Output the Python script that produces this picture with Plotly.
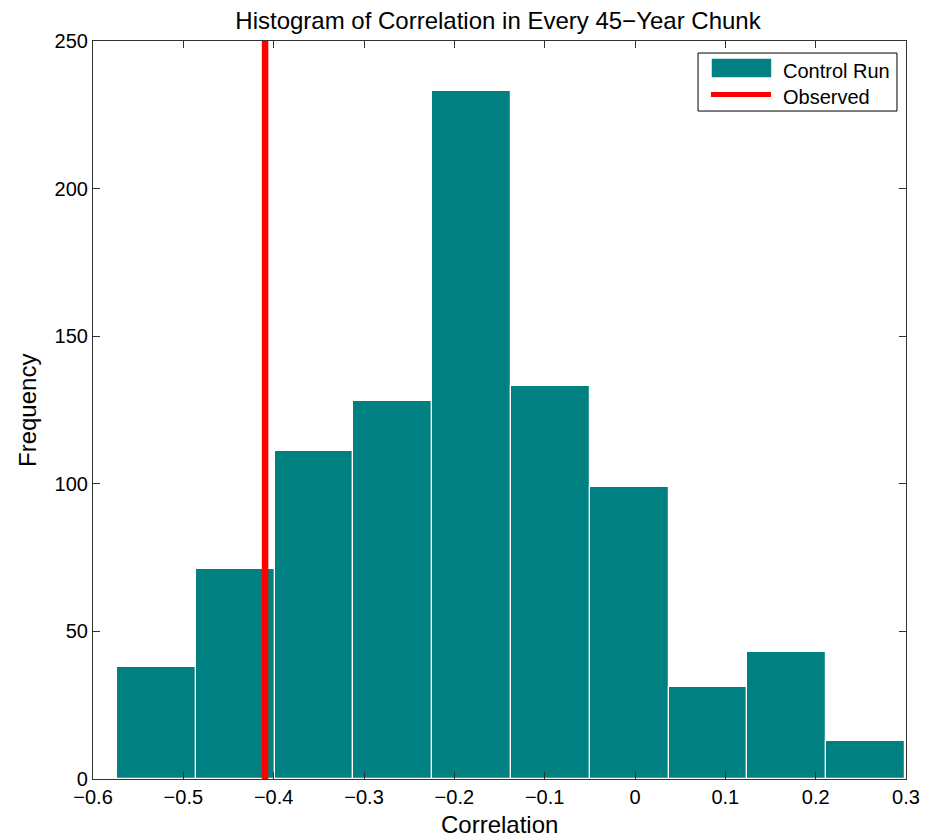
import plotly.graph_objects as go

bin_edges = [-0.5735, -0.4862, -0.3990, -0.3117, -0.2245, -0.1372, -0.0500, 0.0373, 0.1245, 0.2118, 0.2990]
counts = [38, 71, 111, 128, 233, 133, 99, 31, 43, 13]
observed = -0.4095
x_ticks = [-0.6, -0.5, -0.4, -0.3, -0.2, -0.1, 0, 0.1, 0.2, 0.3]
x_tick_labels = ["−0.6", "−0.5", "−0.4", "−0.3", "−0.2", "−0.1", "0", "0.1", "0.2", "0.3"]
y_ticks = [0, 50, 100, 150, 200, 250]
series_names = ["Control Run", "Observed"]
bar_color = "#008080"
line_color = "#ff0000"

centers = [(bin_edges[i] + bin_edges[i + 1]) / 2 for i in range(len(counts))]
widths = [bin_edges[i + 1] - bin_edges[i] for i in range(len(counts))]

fig = go.Figure()
fig.add_trace(go.Bar(
    x=centers, y=counts, width=widths, name=series_names[0],
    marker=dict(color=bar_color, line=dict(color="white", width=1.2)),
    showlegend=False,
))
fig.add_trace(go.Scatter(
    x=[observed, observed], y=[0, 250], mode="lines", name=series_names[1],
    line=dict(color=line_color, width=6.5), showlegend=False,
))

font_family = "Liberation Sans, Arial, sans-serif"

# Manual MATLAB-style legend (paper coordinates)
shapes = [
    dict(type="rect", xref="paper", yref="paper", x0=0.7442, x1=0.9889, y0=0.9051, y1=0.9837,
         line=dict(color="black", width=1), fillcolor="white", layer="above"),
    dict(type="rect", xref="paper", yref="paper", x0=0.7614, x1=0.8339, y0=0.9512, y1=0.9756,
         line=dict(color=bar_color, width=0.5), fillcolor=bar_color, layer="above"),
    dict(type="line", xref="paper", yref="paper", x0=0.7601, x1=0.8339, y0=0.9275, y1=0.9275,
         line=dict(color=line_color, width=5), layer="above"),
]
annotations = [
    dict(text=series_names[0], xref="paper", yref="paper", x=0.8462, y=0.9600,
         xanchor="left", yanchor="middle", showarrow=False, font=dict(size=20)),
    dict(text=series_names[1], xref="paper", yref="paper", x=0.8462, y=0.9235,
         xanchor="left", yanchor="middle", showarrow=False, font=dict(size=20)),
    dict(text="Correlation", xref="paper", yref="paper", x=0.5, y=-0.0623,
         xanchor="center", yanchor="middle", showarrow=False, font=dict(size=24)),
    dict(text="Frequency", xref="paper", yref="paper", x=-0.0812, y=0.5,
         xanchor="center", yanchor="middle", showarrow=False, textangle=-90, font=dict(size=24)),
]

fig.update_layout(
    width=936, height=838,
    margin=dict(l=85, r=38, t=33, b=67),
    paper_bgcolor="white", plot_bgcolor="white",
    font=dict(family=font_family, size=20, color="black"),
    title=dict(text="Histogram of Correlation in Every 45−Year Chunk",
               x=0.5235, xref="container", xanchor="center", y=0.985, yref="container",
               yanchor="middle", font=dict(size=24)),
    showlegend=False,
    bargap=0,
    shapes=shapes,
    annotations=annotations,
)
fig.update_xaxes(
    range=[-0.6, 0.3], tickvals=x_ticks, ticktext=x_tick_labels,
    ticks="inside", ticklen=7, tickcolor="#333", showline=True, linecolor="#333",
    linewidth=1.2, mirror="ticks", showgrid=False, zeroline=False,
    tickfont=dict(size=20),
)
fig.update_yaxes(
    range=[0, 250], tickvals=y_ticks,
    ticks="inside", ticklen=7, tickcolor="#333", showline=True, linecolor="#333",
    linewidth=1.2, mirror="ticks", showgrid=False, zeroline=False,
    tickfont=dict(size=20),
)

fig.write_html("out.html")
